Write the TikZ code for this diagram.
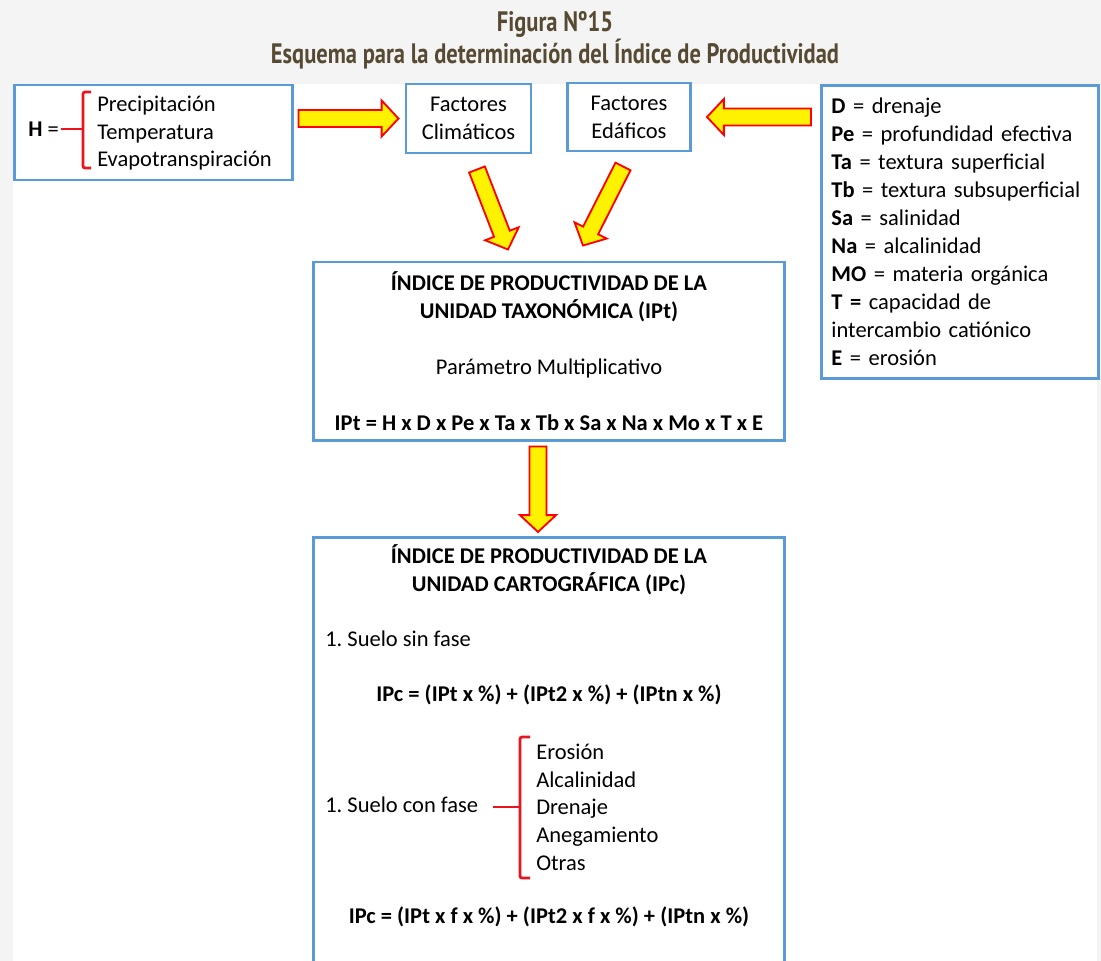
\documentclass[tikz,border=0pt]{standalone}
\usepackage{fontspec}
\usepackage{tikz}
\usetikzlibrary{calc}
\usepackage{xcolor}

\setmainfont{Carlito}
\newfontfamily\titlefont[FakeStretch=0.8]{PT Sans}
\newcommand{\body}{\fontsize{16}{19.9}\selectfont}
\frenchspacing

\definecolor{boxblue}{HTML}{5B9BD5}
\definecolor{pagegray}{HTML}{F4F4F4}
\definecolor{titlebrown}{HTML}{574A33}
\definecolor{bracketred}{HTML}{E8141E}

% block arrow from tail #1 to tip #2
\newcommand{\blockarrow}[2]{%
  \coordinate (ba-h) at ($(#2)!12pt!(#1)$);
  \draw[bigarrow] ($(#1)!6pt!90:(#2)$) -- ($(ba-h)!6pt!90:(#2)$)
    -- ($(ba-h)!12.8pt!90:(#2)$) -- (#2) -- ($(ba-h)!12.8pt!-90:(#2)$)
    -- ($(ba-h)!6pt!-90:(#2)$) -- ($(#1)!6pt!-90:(#2)$) -- cycle;
}

\begin{document}
\begin{tikzpicture}[
    x=0.025cm, y=-0.025cm,
    box/.style={draw=boxblue, line width=2.1pt, fill=white, inner sep=0pt},
    txt/.style={font=\body, inner sep=0pt, align=left},
    title/.style={font=\titlefont\bfseries\fontsize{20}{21.3}\selectfont, text=titlebrown, align=center, inner sep=0pt},
    bracket/.style={draw=bracketred, line width=2pt, rounded corners=1.5pt},
    bigarrow/.style={fill=yellow, draw=red, line width=1.3pt, line join=miter}
  ]
  \clip (0,0) rectangle (1101,961);
  \fill[pagegray] (0,0) rectangle (1101,961);
  \fill[white] (13,84) rectangle (1097,961);

  \node[title] (titulo) at (555,40) {Figura Nº15\\Esquema para la determinación del Índice de Productividad};

  % climatic factor H
  \node[box, minimum width=6.925cm, minimum height=2.375cm] (hbox) at (153.5,132.5) {};
  \node[txt, anchor=base west] (heq) at (28,136) {\textbf{H} =};
  \node[txt, anchor=base west] (prec) at (97,111) {Precipitación};
  \node[txt, anchor=base west] (temp) at (97,139) {Temperatura};
  \node[txt, anchor=base west] (evap) at (97,166) {Evapotranspiración};
  \draw[bracket] (91,92) -- (83,92) -- (83,168) -- (91,168);
  \draw[bracket] (61,129) -- (83,129);

  \node[box, txt, align=center, minimum width=3.125cm, minimum height=1.725cm] (clim) at (468.5,118.5) {Factores\\Climáticos};
  \node[box, txt, align=center, minimum width=3.075cm, minimum height=1.7cm] (edaf) at (629,117) {Factores\\Edáficos};

  % soil factors
  \node[box, txt, anchor=north west, minimum width=6.925cm, minimum height=7.325cm, text width=6.425cm, inner xsep=0.25cm] (defs) at (820,84) {%
    \textbf{D} = drenaje\\
    \textbf{Pe} = profundidad efectiva\\
    \textbf{Ta} = textura superficial\\
    \textbf{Tb} = textura subsuperficial\\
    \textbf{Sa} = salinidad\\
    \textbf{Na} = alcalinidad\\
    \textbf{MO} = materia orgánica\\
    \textbf{T =} capacidad de\\
    intercambio catiónico\\
    \textbf{E} = erosión};

  % IPt
  \node[box, txt, align=center, minimum width=11.75cm, minimum height=4.45cm] (ipt) at (549,351) {%
    \textbf{ÍNDICE DE PRODUCTIVIDAD DE LA}\\
    \textbf{UNIDAD TAXONÓMICA (IPt)}\\[19.9pt]
    Parámetro Multiplicativo\\[19.9pt]
    \textbf{IPt = H x D x Pe x Ta x Tb x Sa x Na x Mo x T x E}};

  % IPc
  \node[box, anchor=north, minimum width=11.75cm, minimum height=11.6cm] (ipc) at (549,536) {};
  \node[txt, align=center, font=\body\bfseries] (ipctit) at (549,570) {ÍNDICE DE PRODUCTIVIDAD DE LA\\UNIDAD CARTOGRÁFICA (IPc)};
  \node[txt, anchor=base west] (sinfase) at (325,646) {1. Suelo sin fase};
  \node[txt, anchor=base] (form1) at (549,701) {\textbf{IPc = (IPt x \%) + (IPt2 x \%) + (IPtn x \%)}};
  \node[txt, anchor=base west] (confase) at (325,812) {1. Suelo con fase};
  \node[txt, anchor=base west] (ero) at (536,759) {Erosión};
  \node[txt, anchor=base west] (alca) at (536,787) {Alcalinidad};
  \node[txt, anchor=base west] (dren) at (536,814) {Drenaje};
  \node[txt, anchor=base west] (aneg) at (536,842) {Anegamiento};
  \node[txt, anchor=base west] (otras) at (536,870) {Otras};
  \draw[bracket] (530,737) -- (520,737) -- (520,878) -- (530,878);
  \draw[bracket] (493,807) -- (520,807);
  \node[txt, anchor=base] (form2) at (549,923) {\textbf{IPc = (IPt x f x \%) + (IPt2 x f x \%) + (IPtn x \%)}};

  % arrows
  \coordinate (a1s) at ($(hbox.east |- clim.west)+(5,0)$);
  \coordinate (a1e) at ($(clim.west)+(-6,0)$);
  \coordinate (a2s) at ($(defs.west |- edaf.east)+(-9,0)$);
  \coordinate (a2e) at ($(edaf.east)+(15,0)$);
  \coordinate (a3s) at ($(clim.south)+(8.5,15)$);
  \coordinate (a3e) at ($(ipt.north)+(-41,-11)$);
  \coordinate (a4s) at ($(edaf.south)+(-6,14)$);
  \coordinate (a4e) at ($(ipt.north)+(34,-15)$);
  \coordinate (a5s) at ($(ipt.south)+(-11,5)$);
  \coordinate (a5e) at ($(ipc.north)+(-11,-4)$);
  \blockarrow{a1s}{a1e}
  \blockarrow{a2s}{a2e}
  \blockarrow{a3s}{a3e}
  \blockarrow{a4s}{a4e}
  \blockarrow{a5s}{a5e}
\end{tikzpicture}
\end{document}
